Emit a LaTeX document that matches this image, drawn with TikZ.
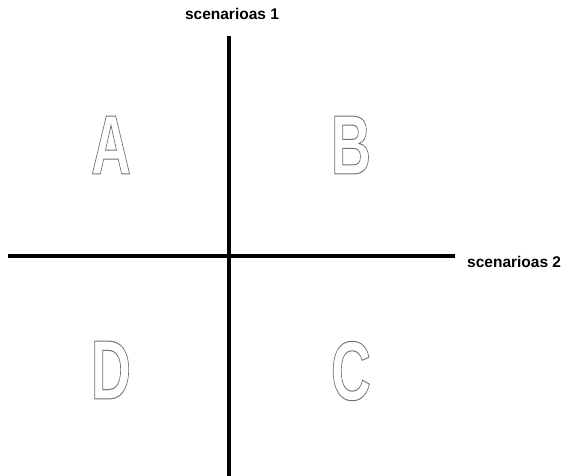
\documentclass[tikz,border=0pt]{standalone}
\usepackage{fontspec}
\setmainfont{Liberation Sans}
\newcommand{\outlinetext}[1]{\special{pdf:literal direct 1 Tr 1.0 w}#1\special{pdf:literal direct 0 Tr}}
\begin{document}
\begin{tikzpicture}[x=1pt,y=-1pt,
  axis/.style={line width=3.6pt,black},
  axlabel/.style={font=\bfseries\fontsize{15.5}{17}\selectfont,inner sep=0pt},
  bigletter/.style={font=\bfseries\fontsize{84}{90}\selectfont,text=black!55,inner sep=0pt,xscale=0.66}]
\useasboundingbox (0,0) rectangle (563,476);
\coordinate (vtop) at (229,36);
\coordinate (vbot) at (229,476);
\coordinate (hleft) at (8,256);
\coordinate (hright) at (455,256);
\draw[axis] (vtop) -- (vbot);
\draw[axis] (hleft) -- (hright);
\node[axlabel] (l1) at (232,14) {scenarioas 1};
\node[axlabel,anchor=west] (l2) at (467,262) {scenarioas 2};
\node[bigletter] (A) at (111,145) {\outlinetext{A}};
\node[bigletter] (B) at (351,145) {\outlinetext{B}};
\node[bigletter] (D) at (111,370) {\outlinetext{D}};
\node[bigletter] (C) at (351,371) {\outlinetext{C}};
\end{tikzpicture}
\end{document}
